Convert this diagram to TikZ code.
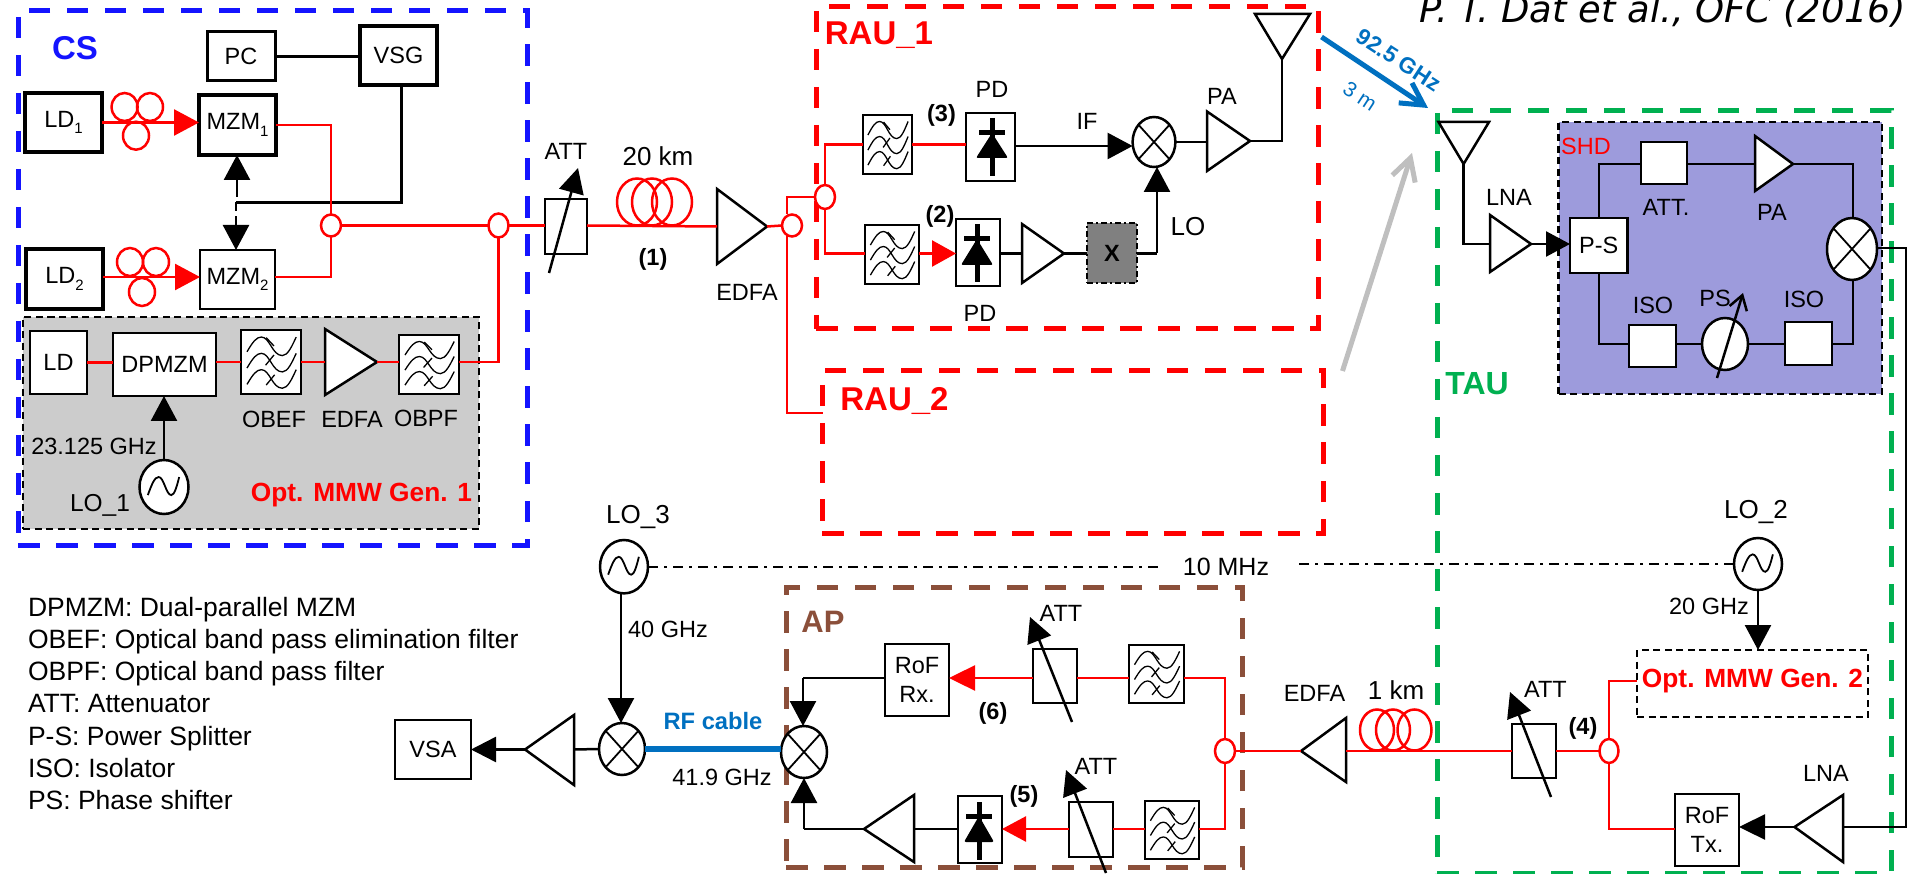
\documentclass[tikz,border=0pt]{standalone}
\usepackage{fontspec}
\setmainfont{Liberation Sans}
\newfontfamily\titlef{DejaVu Sans}
\usetikzlibrary{arrows.meta,shapes.geometric,calc}
\definecolor{csblue}{HTML}{1414FF}
\definecolor{taugreen}{HTML}{00B050}
\definecolor{apbrown}{HTML}{8B4F3A}
\definecolor{linkblue}{HTML}{0070C0}
\definecolor{shdfill}{HTML}{9D9BDC}
\tikzset{
  lab/.style={inner sep=0pt,outer sep=0pt,align=center,font=\fontsize{23.5}{29}\selectfont},
  lablg/.style={lab,font=\fontsize{26}{29}\selectfont},
  blab/.style={lab,font=\fontsize{23.5}{29}\selectfont\bfseries},
  biglab/.style={lab,font=\fontsize{33}{36}\selectfont\bfseries},
  genlab/.style={lab,text=red,font=\fontsize{26.3}{30}\selectfont\bfseries},
  bxs/.style={draw=black,fill=white,line width=2.5pt,rectangle,inner sep=0pt,outer sep=0pt,align=center,font=\fontsize{23.5}{29}\selectfont},
  region/.style={draw=#1,fill=none,line width=5pt,dash pattern=on 21.5pt off 16.5pt},
  subbox/.style={draw=black,line width=2.5pt,dash pattern=on 7pt off 4.5pt},
  fltbox/.style={line width=2.5pt},
  shp/.style={draw=black,fill=white,line width=2.5pt,line join=miter},
  ell/.style={ellipse,inner sep=0pt,outer sep=0pt,fill=white,draw=black,line width=2.5pt},
  spl/.style={ell,draw=red},
  blk/.style={draw=black,line width=2.5pt},
  finer/.style={draw=black,line width=1.8pt},
  rd/.style={draw=red,line width=2.5pt},
  tipk/.style={-{Triangle[length=25pt,width=26pt]}},
  attar/.style={draw=black,line width=2.5pt,-{Triangle[length=25pt,width=25pt]}},
  coil/.style={ell,draw=red,fill=none},
}
\newcommand\bxn[7][]{\pgfmathsetmacro\bxw{#5-#3}\pgfmathsetmacro\bxh{#6-#4}\pgfmathsetmacro\bxx{(#3+#5)/2}\pgfmathsetmacro\bxy{(#4+#6)/2}\node[bxs,#1,minimum width=\bxw pt,minimum height=\bxh pt] (#2) at (\bxx,\bxy) {#7};}
\newcommand\elli[6][]{\pgfmathsetmacro\bxw{2*#5}\pgfmathsetmacro\bxh{2*#6}\node[ell,#1,minimum width=\bxw pt,minimum height=\bxh pt] (#2) at (#3,#4) {};}
\newcommand\mixr[5]{\elli{#1}{#2}{#3}{#4}{#5}\draw[finer] (#1.48) -- (#1.228) (#1.132) -- (#1.312);}
\newcommand\losc[5]{\elli{#1}{#2}{#3}{#4}{#5}\begin{scope}[shift={(#2,#3)},x=#4 pt,y=-#5 pt]\draw[finer] (-.66,.3) .. controls (-.5,-.1) and (-.38,-.37) .. (-.22,-.37) .. controls (0,-.37) and (.08,.3) .. (.3,.3) .. controls (.42,.3) and (.52,0) .. (.62,-.37);\end{scope}}
\newcommand\ampl[6]{\draw[shp] (#2,#3) -- (#4,#5) -- (#2,#6) -- cycle; \coordinate (#1b) at (#2,#5); \coordinate (#1t) at (#4,#5);}
\newcommand\flt[5]{\bxn[fltbox]{#1}{#2}{#3}{#4}{#5}{}\begin{scope}[shift={(#2,#3)},x=\bxw pt,y=-\bxh pt,line width=1.3pt]
\foreach \off in {0,.255,.51}{\draw[shift={(0,\off)}] (.1,.34) .. controls (.2,.18) and (.26,.11) .. (.34,.11) .. controls (.48,.11) and (.52,.40) .. (.69,.40) .. controls (.78,.40) and (.85,.25) .. (.92,.11);}
\draw (.41,.55) -- (.55,.39) (.42,.12) -- (.55,.25) (.42,.86) -- (.56,.7);\end{scope}}
\newcommand\diode[7]{\draw[draw=black,line width=5pt] (#1,#2) -- (#1,#5); \draw[draw=black,line width=5pt] ({#1-#6},#3) -- ({#1+#6},#3); \fill[black,rounded corners=2pt] (#1,#3) -- ({#1+#7},#4) -- ({#1-#7},#4) -- cycle;}
\newcommand\subs[1]{\raisebox{-.28em}{\fontsize{15}{15}\selectfont #1}}
\begin{document}
\begin{tikzpicture}[x=1pt,y=-1pt]
\useasboundingbox (0,0) rectangle (1907,874);
% ---- regions
\bxn[region=csblue]{csr}{18}{11}{527}{545}{}
\bxn[region=red]{rau1r}{816}{7}{1318}{329}{}
\bxn[region=red]{rau2r}{822}{371}{1323}{533}{}
\bxn[region=taugreen]{taur}{1437}{111}{1891}{873}{}
\bxn[region=apbrown]{apr}{786}{587}{1242}{867}{}
\bxn[subbox,fill=black!20]{genr}{23}{317}{479}{529}{}
\bxn[subbox,fill=shdfill]{shdr}{1558.5}{122}{1882}{394}{}
\bxn[subbox,fill=none]{gen2r}{1637}{650}{1868}{717}{}
% ---- title and region labels
\node[lab,anchor=base west,font=\fontsize{36.9}{40}\titlef\itshape] (ttl) at (1419,23) {P. T. Dat et al., OFC (2016)};
\node[biglab,text=csblue] (tcs) at (75,48) {CS};
\node[biglab,text=red] (trau1) at (879,35) {RAU\_1};
\node[biglab,text=red] (trau2) at (894.5,401) {RAU\_2};
\node[biglab,text=taugreen,font=\fontsize{32}{36}\selectfont\bfseries] (ttau) at (1477,384) {TAU};
\node[biglab,text=apbrown,font=\fontsize{31}{36}\selectfont\bfseries] (tap) at (823,622) {AP};
\node[lab,text=red] (tshd) at (1586,146) {SHD};
\node[genlab] (tgen1) at (361.5,495) {Opt. MMW Gen. 1};
\node[genlab] (tgen2) at (1752.5,681) {Opt. MMW Gen. 2};
% ---- CS blocks
\bxn[line width=3pt]{pc}{207}{32}{275}{81}{\raisebox{-3pt}{PC}}
\bxn[line width=3.5pt]{vsg}{360}{26}{437}{85}{VSG}
\bxn[line width=4pt]{ld1}{25}{93}{102}{152}{LD\subs{1}}
\bxn[line width=4pt]{mzm1}{199}{95}{276}{155}{MZM\subs{1}}
\bxn[line width=3.5pt]{ld2}{26}{249}{103}{309}{LD\subs{2}}
\bxn{mzm2}{200}{250}{275}{309}{\raisebox{-2pt}{MZM\subs{2}}}
\bxn{ldg}{30}{331}{87}{394}{LD}
\bxn{dpmzm}{113}{333}{216}{396}{DPMZM}
\flt{obef}{241}{330}{301}{394}
\ampl{edg}{325}{329}{377}{362}{395}
\flt{obpf}{399}{335}{459}{394}
\losc{lo1}{164}{487}{24.5}{27}
\node[lab] (t23) at (94,446) {23.125 GHz};
\node[lab,font=\fontsize{24.5}{29}\selectfont] (tlo1) at (100,505) {LO\_1};
\node[lab] (tobef) at (274,419) {OBEF};
\node[lab] (tedg) at (352,419) {EDFA};
\node[lab] (tobpf) at (426,418) {OBPF};
\elli[spl]{sp1}{331}{225.5}{10}{11}
\elli[spl]{sp2}{498.5}{225.5}{10}{12}
\foreach \n/\cx/\cy in {pa/124.6/107,pb/150/107,pc3/136/135.7,pd/130/262,pe/156/262,pf/142/292}{\elli[coil]{\n}{\cx}{\cy}{13}{14}}
% ---- CS connectors
\draw[blk] (pc.east) -- (pc.east -| vsg.west);
\coordinate (vsgo) at (401.4,85);
\coordinate (vj) at (236,202.5);
\coordinate (vu) at (237,197);
\draw[blk] (vsgo) |- (vj);
\draw[blk,tipk] (vu) -- (vu |- mzm1.south);
\draw[blk,tipk,dash pattern=on 9pt off 5pt] (vj) -- (vj |- mzm2.north);
\coordinate (ld1o) at (102,122.5);
\coordinate (ld2o) at (103,277);
\coordinate (mz2o) at (275,277);
\draw[rd,tipk] (ld1o) -- (ld1o -| mzm1.west);
\draw[rd,tipk] (ld2o) -- (ld2o -| mzm2.west);
\draw[rd] (mzm1.east) -| (sp1.north);
\draw[rd] (mz2o) -| (sp1.south);
\draw[rd] (sp1.east) -- (sp2.west);
\draw[rd] (ldg.east) -- (ldg.east -| dpmzm.west);
\coordinate (dpo) at (216,362);
\draw[rd] (dpo) -- (dpo -| obef.west);
\draw[rd] (dpo -| obef.east) -- (edgb);
\draw[rd] (edgt) -- (edgt -| obpf.west);
\coordinate (obo) at (459,362);
\draw[rd] (obo) -| (sp2.south);
\draw[blk,tipk] (lo1.north) -- (lo1.north |- dpmzm.south);
% ---- link section
\bxn{att1}{545}{199}{587}{254}{}
\coordinate (a1s) at (549,273); \coordinate (a1e) at (578,168);
\draw[attar] (a1s) -- (a1e);
\node[lab] (tatt1) at (566,151) {ATT};
\foreach \n/\cx in {ca/637,cb/652,cc/672}{\elli[coil]{\n}{\cx}{202}{20}{23.5}}
\node[lablg] (t20) at (658,156) {20 km};
\node[blab] (t1) at (653,259) {(1)};
\ampl{ed1}{717}{189}{767}{226.5}{264}
\node[lab] (ted1) at (747,292) {EDFA};
\elli[spl]{sp3}{792}{225.5}{10}{11}
\elli[spl]{sp4}{825}{197}{10}{12}
\draw[rd] (sp2.east) -- (sp2.east -| att1.west);
\draw[rd] (att1.east |- sp2.east) -- (ed1b);
\draw[rd] (ed1t) -- (sp3.west);
\coordinate (r2in) at (823,413);
\coordinate (sp3top) at (787,197);
\coordinate (sp3a) at (787,214.5);
\coordinate (sp3b) at (787,236.5);
\draw[rd] (sp4.west) -- (sp3top) -- (sp3a);
\draw[rd] (sp3b) |- (r2in);
% ---- RAU_1
\flt{f1}{863}{115}{912}{174}
\flt{f2}{865}{225}{919}{284}
\bxn{pd1}{966}{113}{1015}{181}{}
\diode{992}{118}{133}{158}{176}{13}{16}
\bxn{pd2}{956}{219}{1000}{286}{}
\diode{977}{224}{239}{265}{282}{13}{16}
\mixr{mx1}{1154}{142}{21.4}{25}
\ampl{pa1}{1207}{111.5}{1250}{141}{171}
\ampl{am2}{1022}{224}{1064}{253.5}{283}
\bxn[fill=black!50,draw=black,dash pattern=on 6pt off 3pt on 2pt off 3pt]{xb}{1087}{223}{1137}{283}{\bfseries X}
\draw[shp] (1255,14) -- (1282,59) -- (1310,14) -- cycle;
\coordinate (ant1) at (1282,59);
\coordinate (j1) at (825,144.3); \coordinate (j2) at (825,253.5);
\draw[rd] (sp4.north) -- (j1) -- (j1 -| f1.west);
\draw[rd] (sp4.south) -- (j2) -- (j2 -| f2.west);
\draw[rd] (j1 -| f1.east) -- (j1 -| pd1.west);
\draw[rd,-{Triangle[length=24pt,width=26pt]}] (j2 -| f2.east) -- (j2 -| pd2.west);
\coordinate (pd1o) at (1015,146);
\draw[blk,tipk] (pd1o) -- (pd1o -| mx1.west);
\draw[blk] (mx1.east) -- (mx1.east -| pa1b);
\draw[blk] (pa1t) -| (ant1);
\draw[blk] (j2 -| pd2.east) -- (am2b);
\draw[blk] (am2t) -- (am2t -| xb.west);
\coordinate (xo) at (1157,253.5);
\draw[blk] (am2t -| xb.east) -- (xo);
\draw[blk,tipk] (xo) -- (xo |- mx1.south);
\node[lab] (tpd1) at (992,89) {PD};
\node[lab] (tpd2) at (980,313.6) {PD};
\node[lab] (tif) at (1087,121) {IF};
\node[lablg] (tlo) at (1188,227) {LO};
\node[lab] (tpa1) at (1222,96) {PA};
\node[blab] (t3) at (941.5,115) {(3)};
\node[blab] (t2) at (940,216) {(2)};
% ---- wireless arrows
\coordinate (wb1) at (1321.5,37); \coordinate (wb2) at (1428,108);
\draw[draw=linkblue,line width=5pt,-{Straight Barb[length=22pt,width=24pt]}] (wb1) -- (wb2);
\coordinate (wg1) at (1342.5,371); \coordinate (wg2) at (1412,153);
\draw[draw=black!25,line width=5pt,-{Straight Barb[length=22pt,width=24pt]}] (wg1) -- (wg2);
\node[blab,text=linkblue,rotate=-33,font=\fontsize{22.5}{24}\selectfont\bfseries] (t925) at (1399,60) {92.5 GHz};
\node[lab,text=linkblue,rotate=-33,font=\fontsize{21}{24}\selectfont] (t3m) at (1360,96) {3 m};
% ---- TAU / SHD
\draw[shp] (1438.5,122) -- (1463.6,164) -- (1489,122) -- cycle;
\coordinate (ant2) at (1463.6,164);
\ampl{lna1}{1490}{215}{1531}{244}{272}
\bxn{ps}{1570}{218}{1627.5}{273}{P-S}
\bxn{att3}{1641}{142}{1687}{184}{}
\ampl{pa2}{1755}{136}{1793}{164}{191}
\mixr{mx2}{1852}{249}{25}{31}
\bxn{iso2}{1785}{322}{1832}{365}{}
\elli{psc}{1725}{344}{23}{26}
\bxn{iso1}{1629}{325}{1676}{367}{}
\draw[blk] (ant2) |- (lna1b);
\draw[blk,-{Triangle[length=24pt,width=25pt]}] (lna1t) -- (lna1t -| ps.west);
\coordinate (u1) at (1599,164); \coordinate (u2) at (1853,164); \coordinate (u3) at (1599,344); \coordinate (u4) at (1853,344);
\draw[blk] (u1 |- ps.north) -- (u1) -- (u1 -| att3.west);
\draw[blk] (u1 -| att3.east) -- (pa2b);
\draw[blk] (pa2t) -- (u2) -- (u2 |- mx2.north);
\draw[blk] (u3 |- ps.south) -- (u3) -- (u3 -| iso1.west);
\draw[blk] (u3 -| iso1.east) -- (psc.west);
\draw[blk] (psc.east) -- (u3 -| iso2.west);
\draw[blk] (u3 -| iso2.east) -- (u4) -- (u4 |- mx2.south);
\coordinate (ps1) at (1717,378); \coordinate (ps2) at (1743,293);
\draw[draw=black,line width=2.5pt,-{Straight Barb[length=14pt,width=18pt]}] (ps1) -- (ps2);
\node[lab] (tlna1) at (1509,197) {LNA};
\node[lab] (tatt3) at (1666,207) {ATT.};
\node[lab] (tpa2) at (1772,212) {PA};
\node[lab] (tiso1) at (1653,305) {ISO};
\node[lab] (tps) at (1715,298) {PS};
\node[lab] (tiso2) at (1804,299) {ISO};
% ---- TAU lower
\coordinate (r1) at (1906,248); \coordinate (r2) at (1906,827);
\ampl{lna2}{1843}{795}{1794.5}{827}{862}
\bxn{tx}{1675}{794}{1739}{866}{RoF\\Tx.}
\draw[blk] (mx2.east |- r1) -- (r1) -- (r2) -- (lna2b);
\draw[blk,-{Triangle[length=26pt,width=25pt]}] (lna2t) -- (lna2t -| tx.east);
\elli[spl]{sp5}{1609}{751}{9.5}{12}
\bxn{att4}{1512}{724}{1556}{778}{}
\coordinate (a4s) at (1551,797); \coordinate (a4e) at (1510,692);
\draw[attar] (a4s) -- (a4e);
\losc{lo2}{1758}{564}{24}{26}
\draw[blk,tipk] (lo2.south) -- (lo2.south |- gen2r.north);
\coordinate (t1j) at (1609,681); \coordinate (t2j) at (1609,829);
\draw[rd] (sp5.north) -- (t1j) -- (t1j -| gen2r.west);
\draw[rd] (sp5.south) -- (t2j) -- (t2j -| tx.west);
\draw[rd] (sp5.west) -- (sp5.west -| att4.east);
\foreach \n/\cx in {cd/1377,ce/1393,cf/1414.5}{\elli[coil]{\n}{\cx}{730}{17}{20.5}}
\ampl{ed2}{1346}{718}{1301}{751}{782}
\draw[rd] (att4.west |- sp5.west) -- (ed2b);
\node[lablg] (tlo2) at (1756,512) {LO\_2};
\node[lab] (t20g) at (1709,606) {20 GHz};
\node[lab] (tlna2) at (1826,773) {LNA};
\node[lab] (tatt4) at (1545.5,689) {ATT};
\node[blab] (t4) at (1583,728) {(4)};
\node[lab] (ted2) at (1314.5,693) {EDFA};
\node[lablg] (t1k) at (1396,690) {1 km};
% ---- AP
\elli[spl]{sp6}{1225}{751}{10}{12}
\flt{f3}{1129}{645}{1184}{703}
\flt{f4}{1145}{801}{1199}{859}
\bxn{att5}{1033}{649}{1077}{703}{}
\bxn{att6}{1069}{802}{1113}{857}{}
\bxn{rx}{885}{644}{949}{716}{RoF\\Rx.}
\bxn{pd3}{958}{796}{1002}{863}{}
\diode{979}{802}{816}{842}{860}{13}{15}
\ampl{am3}{914}{795}{864}{829}{862}
\mixr{mx3}{804}{752}{23}{26}
\mixr{mx4}{622}{749}{23}{26}
\ampl{am4}{574}{715}{525}{749.5}{785}
\bxn{vsa}{395}{720}{471}{779}{VSA}
\losc{lo3}{624}{566.7}{24}{26.7}
\draw[rd] (ed2t) -- (sp6.east);
\coordinate (a1) at (1225,678); \coordinate (a2) at (1225,829);
\draw[rd] (sp6.north) -- (a1) -- (a1 -| f3.east);
\draw[rd] (a1 -| f3.west) -- (a1 -| att5.east);
\draw[rd,-{Triangle[length=26pt,width=25pt]}] (a1 -| att5.west) -- (a1 -| rx.east);
\draw[rd] (sp6.south) -- (a2) -- (a2 -| f4.east);
\draw[rd] (a2 -| f4.west) -- (a2 -| att6.east);
\draw[rd,-{Triangle[length=24pt,width=25pt]}] (a2 -| att6.west) -- (a2 -| pd3.east);
\coordinate (m1) at (803,678); \coordinate (m2) at (804,829);
\draw[blk] (m1 -| rx.west) -- (m1);
\draw[blk,tipk] (m1) -- (m1 |- mx3.north);
\draw[blk] (a2 -| pd3.west) -- (am3b);
\draw[blk] (am3t) -- (m2);
\draw[blk,tipk] (m2) -- (m2 |- mx3.south);
\draw[draw=linkblue,line width=6pt] (mx4.east) -- (mx4.east -| mx3.west);
\draw[blk] (mx4.west) -- (am4b);
\draw[blk,-{Triangle[length=25pt,width=25pt]}] (am4t) -- (am4t -| vsa.east);
\coordinate (lo3o) at (621,593.4);
\draw[blk,tipk] (lo3o) -- (lo3o |- mx4.north);
\coordinate (a5s) at (1072,722); \coordinate (a5e) at (1030,617);
\draw[attar] (a5s) -- (a5e);
\coordinate (a6s) at (1106,873); \coordinate (a6e) at (1066,770);
\draw[attar] (a6s) -- (a6e);
\node[lablg] (tlo3) at (638,517) {LO\_3};
\node[lab] (t40) at (668,629) {40 GHz};
\node[lab,text=linkblue,font=\fontsize{23.7}{28}\selectfont\bfseries] (trf) at (713,721) {RF cable};
\node[lab] (t419) at (722,777) {41.9 GHz};
\node[lab] (tatt5) at (1061,613) {ATT};
\node[lab] (tatt6) at (1096,766) {ATT};
\node[blab] (t6) at (993,713) {(6)};
\node[blab] (t5) at (1024,796) {(5)};
% ---- 10 MHz reference
\node[lab,inner xsep=25pt,font=\fontsize{25}{28}\selectfont] (mhz) at (1226,566.7) {\raisebox{-2pt}{10 MHz}};
\draw[draw=black,line width=2pt,dash pattern=on 10pt off 6pt on 3pt off 6pt] (lo3.east) -- (lo3.east -| mhz.west);
\draw[draw=black,line width=2pt,dash pattern=on 10pt off 6pt on 3pt off 6pt] (lo2.west) -- (lo2.west -| mhz.east);
% ---- legend
\node[lab,anchor=west,align=left,font=\fontsize{26.5}{32.2}\selectfont] (legend) at (28,703.5) {DPMZM: Dual-parallel MZM\\OBEF: Optical band pass elimination filter\\OBPF: Optical band pass filter\\ATT: Attenuator\\P-S: Power Splitter\\ISO: Isolator\\PS: Phase shifter};
\end{tikzpicture}
\end{document}
